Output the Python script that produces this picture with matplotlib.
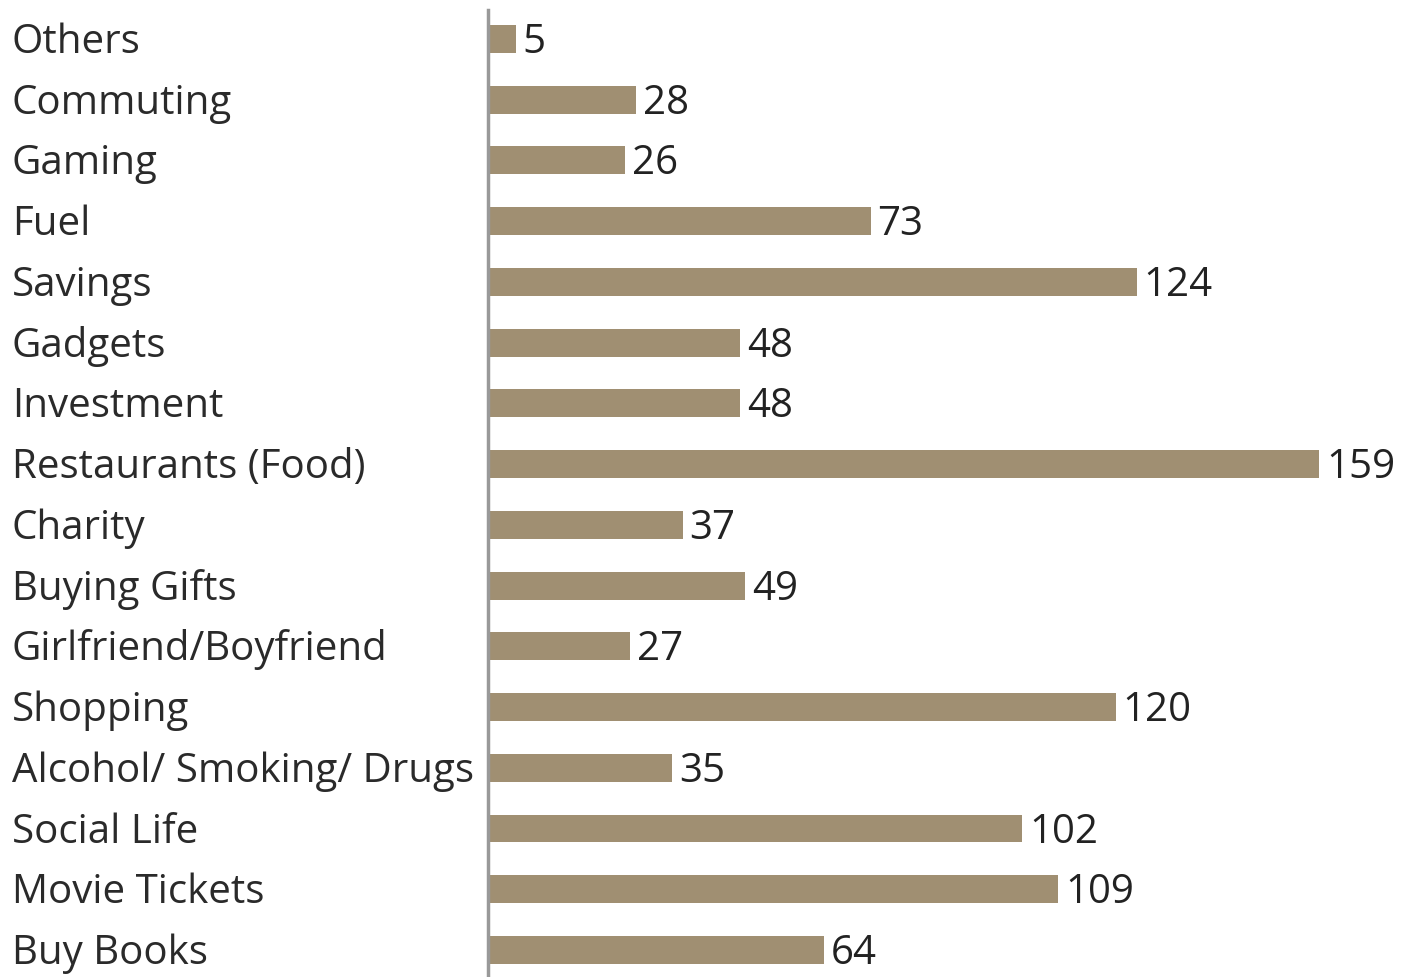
import matplotlib
matplotlib.use("Agg")
import matplotlib.pyplot as plt
import matplotlib.transforms as mtrans

# spending categories, top to bottom
categories = ["Others", "Commuting", "Gaming", "Fuel", "Savings", "Gadgets",
              "Investment", "Restaurants (Food)", "Charity", "Buying Gifts",
              "Girlfriend/Boyfriend", "Shopping", "Alcohol/ Smoking/ Drugs",
              "Social Life", "Movie Tickets", "Buy Books"]
counts = [5, 28, 26, 73, 124, 48, 48, 159, 37, 49, 27, 120, 35, 102, 109, 64]

plt.rcParams['font.family'] = ['Open Sans', 'DejaVu Sans']

fig = plt.figure(figsize=(14.05, 9.77), dpi=100)
ax = fig.add_axes([488/1405, 0, 1 - 488/1405, 1 - 10/977])

ypos = list(range(len(categories)))
ax.barh(ypos, counts, height=0.46, color="#a08f72", left=0.3)
ax.set_xlim(0, 175.7)
ax.set_ylim(15 + 0.445, -0.4775)

for s in ["top", "right", "bottom"]:
    ax.spines[s].set_visible(False)
ax.spines["left"].set_color("#999999")
ax.spines["left"].set_linewidth(2.5)
ax.set_xticks([])
ax.set_yticks([])

# baseline sits ~14px below bar centre
drop = -14 * 72 / 100

for y, v in zip(ypos, counts):
    ax.annotate(str(v), (v + 0.3, y), xytext=(5, drop), textcoords="offset points",
                va="baseline", ha="left", fontsize=29, color="#222222")

trans = mtrans.blended_transform_factory(fig.transFigure, ax.transData)
for y, name in zip(ypos, categories):
    ax.annotate(name, (12/1405, y), xycoords=trans, xytext=(0, drop),
                textcoords="offset points", va="baseline", ha="left",
                fontsize=29, color="#2a2a2a")

fig.savefig("out.png", dpi=100)
